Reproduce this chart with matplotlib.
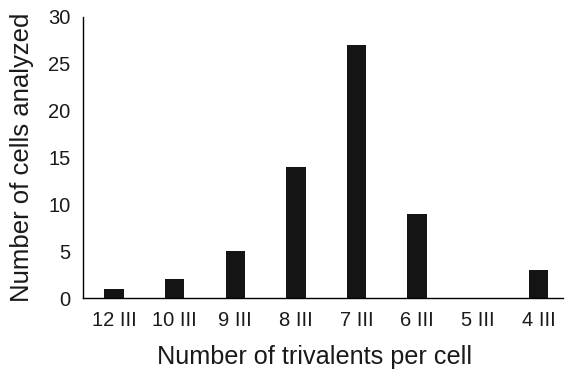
import matplotlib
matplotlib.use("Agg")
import matplotlib.pyplot as plt

categories = ["12 III", "10 III", "9 III", "8 III", "7 III", "6 III", "5 III", "4 III"]
values = [1, 2, 5, 14, 27, 9, 0, 3]
yticks = [0, 5, 10, 15, 20, 25, 30]

plt.rcParams['font.family'] = ['Liberation Sans', 'DejaVu Sans']
fig = plt.figure(figsize=(5.65, 3.69), dpi=100)
ax = fig.add_axes([0.147, 0.192, 0.85, 0.762])
x = list(range(len(categories)))
ax.bar(x, values, width=0.32, color="#141414")
ax.set_xlim(-0.51, 7.41)
ax.set_ylim(0, 30)
ax.set_yticks(yticks)
ax.set_xticks(x)
ax.set_xticklabels(categories)
ax.tick_params(length=0, labelsize=14.5, colors="#1a1a1a")
ax.tick_params(axis='x', pad=9)
ax.tick_params(axis='y', pad=9)
for s in ["top", "right"]:
    ax.spines[s].set_visible(False)
for s in ["left", "bottom"]:
    ax.spines[s].set_linewidth(1.0)
ax.set_xlabel("Number of trivalents per cell", fontsize=18.2, labelpad=11, color="#1a1a1a")
ax.xaxis.label.set_x(0.482)
ax.set_ylabel("Number of cells analyzed", fontsize=18.5, labelpad=10, color="#1a1a1a")
fig.savefig("out.png", dpi=100)
